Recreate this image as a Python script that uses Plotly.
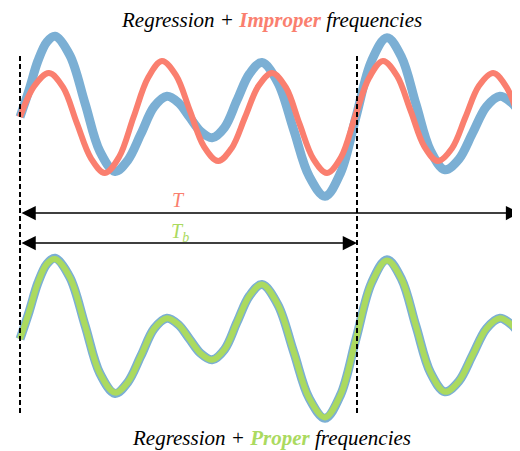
import plotly.graph_objects as go

# time in units of the true period Tb (window length T = 1.484 Tb)
T_WINDOW = 1.484
TB = 1.0

# observed signal (same signal shown in both panels)
sig_t = [0.000, 0.027, 0.053, 0.080, 0.104, 0.148, 0.193, 0.237, 0.282, 0.320,
         0.359, 0.398, 0.436, 0.470, 0.503, 0.536, 0.570, 0.607, 0.644, 0.681,
         0.718, 0.765, 0.812, 0.858, 0.905, 0.951, 0.997, 1.043, 1.089, 1.132,
         1.175, 1.218, 1.261, 1.302, 1.343, 1.384, 1.424, 1.458, 1.484]
sig_v = [0.00, 0.34, 0.70, 0.94, 1.01, 0.77, 0.17, -0.43, -0.68, -0.54,
         -0.21, 0.13, 0.26, 0.18, 0.00, -0.18, -0.26, -0.13, 0.21, 0.54,
         0.68, 0.43, -0.16, -0.74, -0.99, -0.70, 0.00, 0.70, 0.99, 0.75,
         0.16, -0.42, -0.66, -0.53, -0.20, 0.13, 0.26, 0.18, 0.05]

# regression with improper frequencies (period T)
imp_t = [0.000, 0.043, 0.086, 0.128, 0.169, 0.211, 0.252, 0.294, 0.337, 0.380,
         0.421, 0.463, 0.504, 0.546, 0.588, 0.628, 0.668, 0.708, 0.748, 0.789,
         0.829, 0.870, 0.911, 0.953, 0.994, 1.036, 1.077, 1.118, 1.159, 1.200,
         1.240, 1.282, 1.322, 1.362, 1.404, 1.444, 1.484]
imp_v = [0.00, 0.39, 0.55, 0.37, -0.08, -0.52, -0.70, -0.50, 0.00, 0.49,
         0.70, 0.52, 0.08, -0.37, -0.55, -0.39, 0.00, 0.39, 0.55, 0.37,
         -0.08, -0.52, -0.70, -0.50, 0.00, 0.49, 0.70, 0.52, 0.08, -0.37,
         -0.55, -0.39, 0.00, 0.39, 0.55, 0.37, -0.06]

# regression with proper frequencies (period Tb)
prop_t = sig_t
prop_v = [0.00, 0.34, 0.70, 0.94, 1.00, 0.77, 0.17, -0.43, -0.67, -0.54,
          -0.21, 0.13, 0.26, 0.18, 0.00, -0.18, -0.26, -0.13, 0.21, 0.54,
          0.68, 0.43, -0.16, -0.74, -0.98, -0.70, 0.00, 0.70, 0.98, 0.75,
          0.16, -0.42, -0.66, -0.53, -0.20, 0.13, 0.26, 0.18, 0.05]

BLUE = "#7BAFD4"
RED = "#FA7F6F"
GREEN = "#ABDA5F"
SERIF = "Liberation Serif"
SMOOTH = 1.0

fig = go.Figure()
# top panel
fig.add_trace(go.Scatter(x=sig_t, y=sig_v, mode="lines", yaxis="y",
                         line=dict(color=BLUE, width=9, shape="spline", smoothing=SMOOTH)))
fig.add_trace(go.Scatter(x=imp_t, y=imp_v, mode="lines", yaxis="y",
                         line=dict(color=RED, width=6, shape="spline", smoothing=SMOOTH)))
# bottom panel
fig.add_trace(go.Scatter(x=sig_t, y=sig_v, mode="lines", yaxis="y2",
                         line=dict(color=BLUE, width=9, shape="spline", smoothing=SMOOTH)))
fig.add_trace(go.Scatter(x=prop_t, y=prop_v, mode="lines", yaxis="y2",
                         line=dict(color=GREEN, width=6, shape="spline", smoothing=SMOOTH)))

# page body has an 8px margin: the figure occupies 512x443 of the 520x451 window
W, H = 512, 443
SCALE = 80.0
top_hi = 109 / SCALE
bot_hi = 331 / SCALE
span = H / SCALE

x_lo = -12 / 337
x_hi = 500 / 337

for xv in [0.0, TB]:
    fig.add_shape(type="line", xref="x", yref="paper", x0=xv, x1=xv,
                  y0=1 - 405 / H, y1=1 - 47 / H,
                  line=dict(color="black", width=2, dash="5px,3px"))

arrow_common = dict(xref="x", yref="y", axref="x", ayref="y", text="",
                    showarrow=True, arrowside="end+start", arrowhead=2,
                    startarrowhead=2, arrowsize=1.9, startarrowsize=1.9,
                    arrowwidth=1.5, arrowcolor="black", standoff=0, startstandoff=0)
y_T = -96 / SCALE
y_Tb = -126 / SCALE
fig.add_annotation(x=T_WINDOW, y=y_T, ax=0, ay=y_T, **arrow_common)
fig.add_annotation(x=TB, y=y_Tb, ax=0, ay=y_Tb, **arrow_common)

fig.add_annotation(x=0.47, y=-83 / SCALE, xref="x", yref="y", showarrow=False,
                   xanchor="center", yanchor="middle",
                   text="<i>T</i>", font=dict(family=SERIF, size=20, color=RED))
fig.add_annotation(x=0.475, y=-115 / SCALE, xref="x", yref="y", showarrow=False,
                   xanchor="center", yanchor="middle",
                   text="<i>T<sub>b</sub></i>", font=dict(family=SERIF, size=20, color=GREEN))

fig.add_annotation(x=263 / W, y=1 - 12 / H, xref="paper", yref="paper", showarrow=False,
                   xanchor="center", yanchor="middle",
                   text=f"<i>Regression + <b><span style='color:{RED}'>Improper</span></b> frequencies</i>",
                   font=dict(family=SERIF, size=21, color="black"))
fig.add_annotation(x=263 / W, y=1 - 430 / H, xref="paper", yref="paper", showarrow=False,
                   xanchor="center", yanchor="middle",
                   text=f"<i>Regression + <b><span style='color:{GREEN}'>Proper</span></b> frequencies</i>",
                   font=dict(family=SERIF, size=21, color="black"))

fig.update_layout(
    width=W, height=H,
    margin=dict(l=0, r=0, t=0, b=0),
    paper_bgcolor="white", plot_bgcolor="white",
    showlegend=False,
    xaxis=dict(range=[x_lo, x_hi], visible=False, domain=[0, 1]),
    yaxis=dict(range=[top_hi - span, top_hi], visible=False, domain=[0, 1]),
    yaxis2=dict(range=[bot_hi - span, bot_hi], visible=False, overlaying="y"),
)

fig.write_html("out.html")
